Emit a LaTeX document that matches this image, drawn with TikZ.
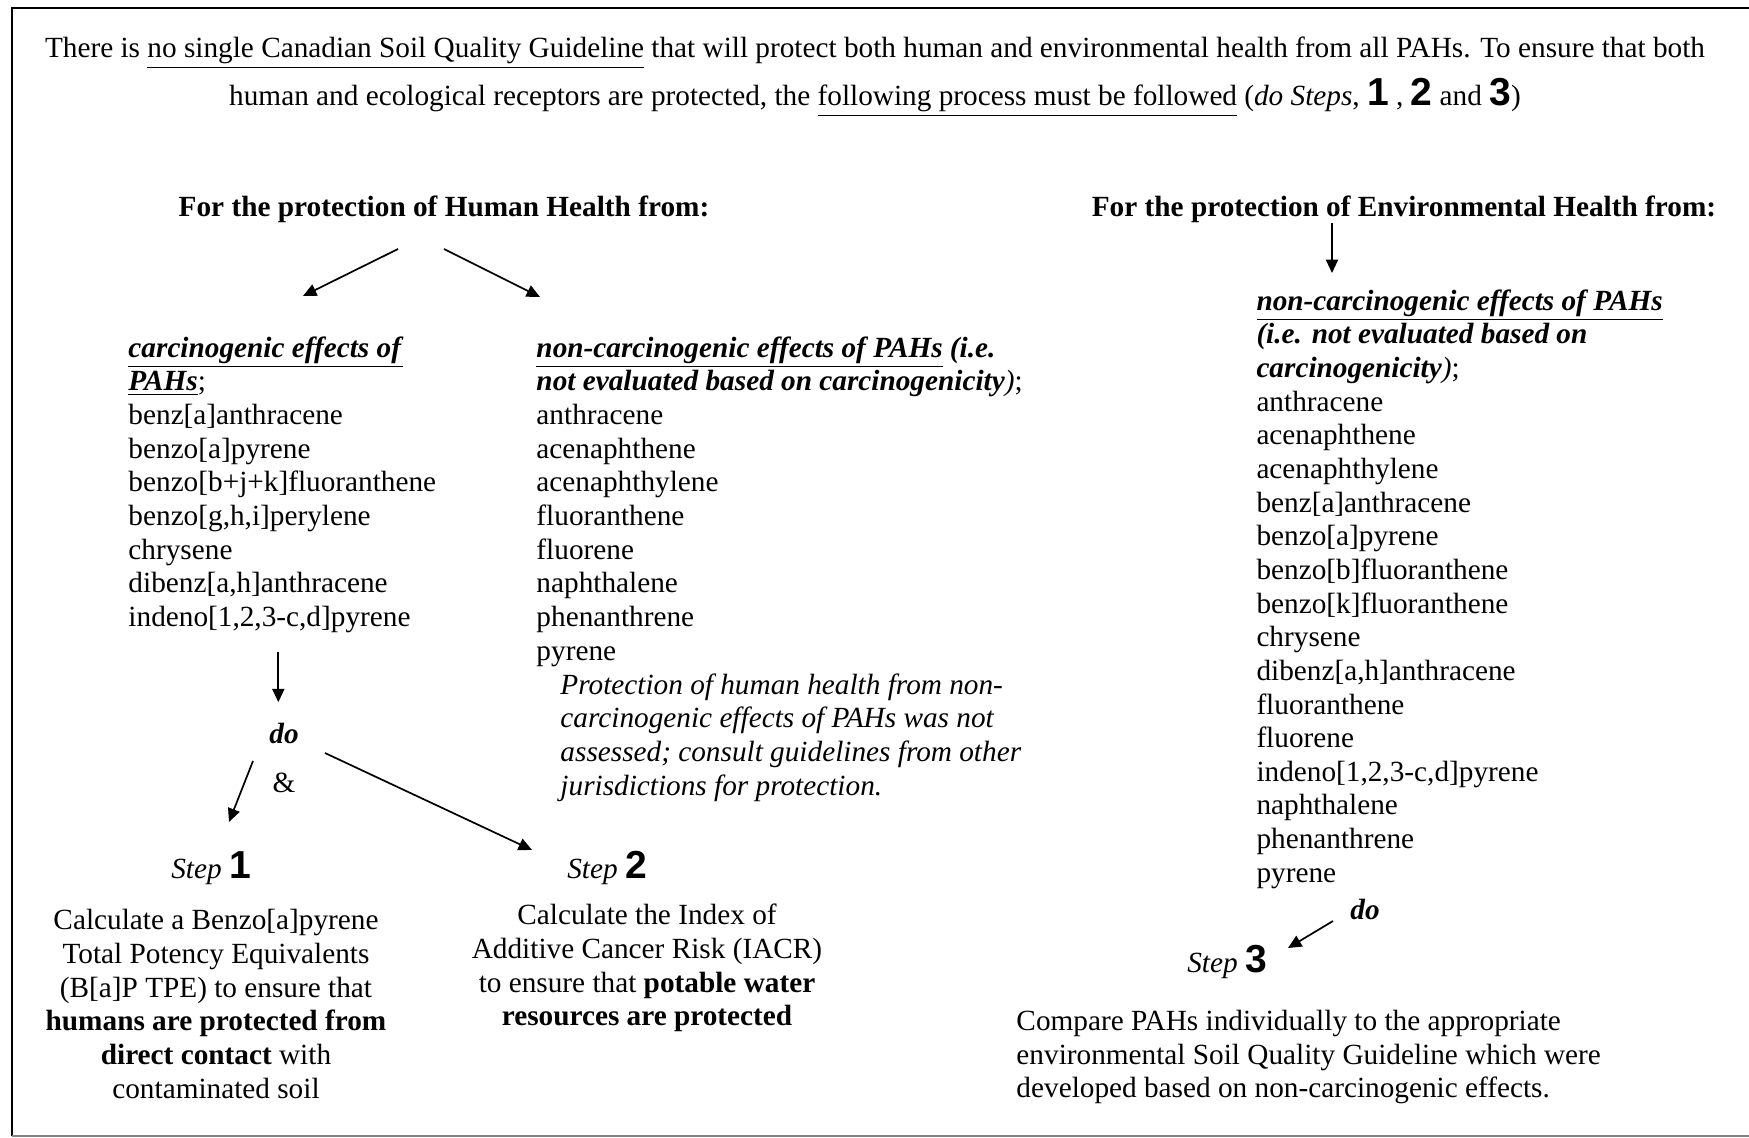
\documentclass[tikz,border=0pt]{standalone}
\usepackage{fontspec}
\setmainfont{Liberation Serif}
\newfontfamily\numfont{Liberation Sans}
\usetikzlibrary{arrows.meta}
\newcommand{\stepno}[1]{{\numfont\bfseries\fontsize{16}{16}\selectfont #1}}
\newcommand{\ubi}[1]{\underline{\textbf{\textit{#1}}}}

\begin{document}
\begin{tikzpicture}[x=0.41pt,y=-0.41pt,
    txt/.style={inner sep=0pt,font=\fontsize{12}{13.8}\selectfont},
    list/.style={txt,anchor=north west,align=left},
    arr/.style={line width=0.7pt,-{Triangle[length=5.5pt,width=5pt]}}]
\useasboundingbox (0,0) rectangle (1749,1138);
\draw[line width=0.8pt] (1760,8) -- (12,8) -- (12,1136);
\draw[gray,line width=0.8pt] (12,1136) -- (1760,1136);

\node[txt,align=center,font=\fontsize{12}{19.7}\selectfont] (intro) at (875,77)
  {There is \underline{no single Canadian Soil Quality Guideline} that will protect both human and environmental health from all PAHs. To ensure that both\\
   human and ecological receptors are protected, the \underline{following process must be followed} (\textit{do Steps}, \stepno{1} , \stepno{2} and \stepno{3})};

\node[txt,font=\fontsize{12}{13.8}\selectfont\bfseries] (hh) at (444,209) {For the protection of Human Health from:};
\node[txt,font=\fontsize{12}{13.8}\selectfont\bfseries] (eh) at (1404,209) {For the protection of Environmental Health from:};

\node[list] (carc) at (128,336) {\ubi{carcinogenic effects of}\\\ubi{PAHs};\\benz[a]anthracene\\benzo[a]pyrene\\benzo[b+j+k]fluoranthene\\benzo[g,h,i]perylene\\chrysene\\dibenz[a,h]anthracene\\indeno[1,2,3-c,d]pyrene};
\node[list] (nonc) at (536,336) {\ubi{non-carcinogenic effects of PAHs} \textbf{\textit{(i.e.}}\\\textbf{\textit{not evaluated based on carcinogenicity}}\textit{)};\\anthracene\\acenaphthene\\acenaphthylene\\fluoranthene\\fluorene\\naphthalene\\phenanthrene\\pyrene};
\node[list,font=\fontsize{12}{13.8}\selectfont\itshape] (note) at (560,673) {Protection of human health from non-\\carcinogenic effects of PAHs was not\\assessed; consult guidelines from other\\jurisdictions for protection.};
\node[list] (env) at (1256,289) {\ubi{non-carcinogenic effects of PAHs}\\\textbf{\textit{(i.e. not evaluated based on}}\\\textbf{\textit{carcinogenicity}}\textit{)};\\anthracene\\acenaphthene\\acenaphthylene\\benz[a]anthracene\\benzo[a]pyrene\\benzo[b]fluoranthene\\benzo[k]fluoranthene\\chrysene\\dibenz[a,h]anthracene\\fluoranthene\\fluorene\\indeno[1,2,3-c,d]pyrene\\naphthalene\\phenanthrene\\pyrene};

\node[txt,font=\fontsize{12}{13.8}\selectfont\bfseries\itshape] (do1) at (284,733) {do};
\node[txt] (amp) at (284,783) {\&};
\node[txt] (step1) at (211,868) {\textit{Step} \stepno{1}};
\node[txt] (step2) at (607,868) {\textit{Step} \stepno{2}};
\node[txt,font=\fontsize{12}{13.8}\selectfont\bfseries\itshape] (do3) at (1365,909) {do};
\node[txt] (step3) at (1227,962) {\textit{Step} \stepno{3}};

\node[txt,align=center] (calc1) at (216,1004) {Calculate a Benzo[a]pyrene\\Total Potency Equivalents\\(B[a]P TPE) to ensure that\\\textbf{humans are protected from}\\\textbf{direct contact} with\\contaminated soil};
\node[txt,align=center] (calc2) at (647,968) {Calculate the Index of\\Additive Cancer Risk (IACR)\\to ensure that \textbf{potable water}\\\textbf{resources are protected}};
\node[txt,align=left,anchor=west] (comp) at (1016,1057) {Compare PAHs individually to the appropriate\\environmental Soil Quality Guideline which were\\developed based on non-carcinogenic effects.};

\draw[arr] (hh) ++(-46,40) -- ++(-95,47);
\draw[arr] (hh) ++(0,40) -- ++(96,48);
\draw[arr] (eh) ++(-72,14) -- ++(0,50);
\draw[arr] (carc.south) ++(-4,19) -- ++(0,50);
\draw[arr] (do1) ++(-31,28) -- ++(-24,61);
\draw[arr] (do1) ++(41,20) -- ++(207,97);
\draw[arr] (do3) ++(-32,12) -- ++(-45,27);
\end{tikzpicture}
\end{document}
